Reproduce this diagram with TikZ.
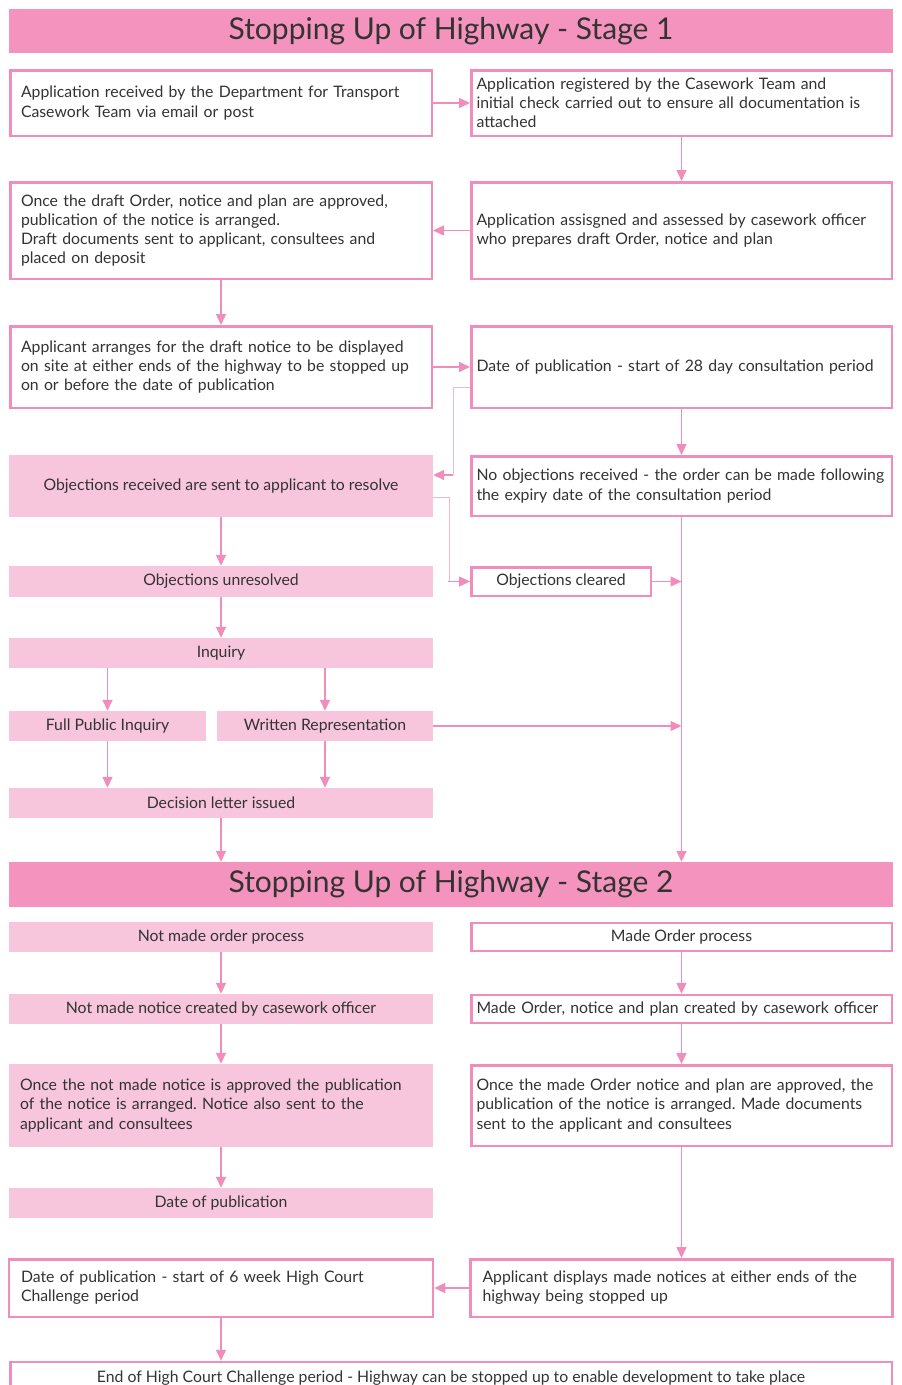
\documentclass[tikz,border=0pt]{standalone}
\usepackage{fontspec}
\setmainfont{Lato}
\frenchspacing
\usetikzlibrary{arrows.meta}
\definecolor{hdr}{HTML}{F493BE}
\definecolor{lfill}{HTML}{F8C6DC}
\definecolor{bord}{HTML}{F08DBB}
\definecolor{lline}{HTML}{F6B5D2}
\definecolor{txt}{HTML}{333333}
\tikzset{
  base/.style={rectangle, text=txt, font=\fontsize{15.8}{19.2}\selectfont, inner ysep=0pt},
  wbox/.style={base, draw=bord, line width=2.5pt, fill=white},
  pbox/.style={base, fill=lfill},
  hbox/.style={base, fill=hdr, font=\fontsize{30}{34}\selectfont},
  lcol/.style={minimum width=421.5pt, text width=400pt, inner xsep=10pt, align=left},
  rcol/.style={minimum width=420.5pt, text width=410pt, inner xsep=5pt, align=left},
  lcolp/.style={minimum width=424pt, text width=402pt, inner xsep=11pt, align=left},
  ccol/.style={minimum width=424pt, align=center},
  ccolr/.style={minimum width=420.5pt, align=center},
  arr/.style={draw=bord, line width=1.5pt, -{Triangle[length=11pt,width=10pt]}},
  lconn/.style={draw=lline, line width=1pt}
}
\begin{document}
\begin{tikzpicture}[x=1pt,y=-1pt]
\useasboundingbox (0,0) rectangle (902,1385);
\clip (0,0) rectangle (902,1385);
% Stage 1
\node[hbox, minimum width=884pt, minimum height=44pt] (h1) at (451,31) {Stopping Up of Highway - Stage 1};
\node[wbox, lcol, minimum height=65.5pt] (a1) at (221,103) {Application received by the Department for Transport\\Casework Team via email or post};
\node[wbox, rcol, minimum height=65.5pt] (a2) at (681.5,103) {Application registered by the Casework Team and\\initial check carried out to ensure all documentation is\\attached};
\node[wbox, rcol, minimum height=96.5pt] (a3) at (681.5,230.5) {Application assisgned and assessed by casework officer\\who prepares draft Order, notice and plan\\[6pt]};
\node[wbox, lcol, minimum height=96.5pt] (a4) at (221,230.5) {Once the draft Order, notice and plan are approved,\\publication of the notice is arranged.\\Draft documents sent to applicant, consultees and\\placed on deposit};
\node[wbox, lcol, minimum height=81.5pt] (a5) at (221,367) {Applicant arranges for the draft notice to be displayed\\on site at either ends of the highway to be stopped up\\on or before the date of publication};
\node[wbox, rcol, minimum height=81.5pt] (a6) at (681.5,367) {Date of publication - start of 28 day consultation period\\[4pt]};
\node[pbox, ccol, minimum height=62pt] (objrec) at (221,486) {Objections received are sent to applicant to resolve};
\node[wbox, rcol, minimum height=59.5pt] (noobj) at (681.5,486) {No objections received - the order can be made following\\the expiry date of the consultation period};
\node[pbox, ccol, minimum height=31pt] (objun) at (221,581.5) {Objections unresolved};
\node[wbox, minimum width=179.5pt, minimum height=28.5pt, inner xsep=4pt] (objcl) at (561,581.5) {Objections cleared};
\node[pbox, ccol, minimum height=30pt] (inq) at (221,653) {Inquiry};
\node[pbox, minimum width=197pt, minimum height=30pt] (fpi) at (107.5,726) {Full Public Inquiry};
\node[pbox, minimum width=216pt, minimum height=30pt] (wr) at (325,726) {Written Representation};
\node[pbox, ccol, minimum height=30pt] (dec) at (221,803) {Decision letter issued};
% Stage 2
\node[hbox, minimum width=884pt, minimum height=45pt] (h2) at (451,884.5) {Stopping Up of Highway - Stage 2};
\node[pbox, ccol, minimum height=30pt] (nm1) at (221,937) {Not made order process};
\node[wbox, ccolr, minimum height=28pt] (m1) at (681.5,937) {Made Order process};
\node[pbox, ccol, minimum height=30pt] (nm2) at (221,1009) {Not made notice created by casework officer};
\node[wbox, rcol, minimum height=28pt] (m2) at (681.5,1009) {Made Order, notice and plan created by casework officer};
\node[pbox, lcolp, minimum height=83pt] (nm3) at (221,1105.5) {Once the not made notice is approved the publication\\of the notice is arranged. Notice also sent to the\\applicant and consultees\\[4pt]};
\node[wbox, rcol, minimum height=80.5pt] (m3) at (681.5,1105.5) {Once the made Order notice and plan are approved, the\\publication of the notice is arranged. Made documents\\sent to the applicant and consultees\\[4pt]};
\node[pbox, ccol, minimum height=30pt] (nm4) at (221,1203) {Date of publication};
\node[wbox, lcol, minimum height=57.5pt, inner xsep=12pt] (b1) at (221,1288) {Date of publication - start of 6 week High Court\\Challenge period\\[4pt]};
\node[wbox, minimum width=420.5pt, text width=398pt, inner xsep=12pt, align=left, minimum height=57.5pt] (b2) at (681.5,1288) {Applicant displays made notices at either ends of the\\highway being stopped up\\[4pt]};
\node[wbox, minimum width=881.5pt, minimum height=32pt, align=center] (end) at (451,1378) {End of High Court Challenge period - Highway can be stopped up to enable development to take place};
% coordinates for connectors
\coordinate (c1) at (453,387);
\coordinate (c2) at (453,475);
\coordinate (c3) at (449,497);
% connectors
\draw[arr] (a1.east) -- (a2.west |- a1.east);
\draw[arr] (a2.south) -- (a3.north);
\draw[arr] (a3.west) -- (a4.east);
\draw[arr] (a4.south) -- (a5.north);
\draw[arr] (a5.east) -- (a6.west);
\draw[arr] (a6.south) -- (noobj.north);
\draw[lconn] (a6.west |- c1) -- (c1) -- (c2);
\draw[arr] (c2) -- (objrec.east |- c2);
\draw[lconn] (objrec.east |- c3) -- (c3) |- (objcl.west);
\draw[arr] ([xshift=-1pt]c3 |- objcl.west) -- (objcl.west);
\draw[arr] (objrec.south) -- (objun.north);
\draw[arr] (objun.south) -- (inq.north);
\draw[arr] (objcl.east) -- (objcl.east -| noobj.south);
\draw[arr] (inq.south -| fpi.north) -- (fpi.north);
\draw[arr] (inq.south -| wr.north) -- (wr.north);
\draw[arr] (wr.east) -- (wr.east -| noobj.south);
\draw[arr] (fpi.south) -- (fpi.south |- dec.north);
\draw[arr] (wr.south) -- (wr.south |- dec.north);
\draw[arr] (dec.south) -- (dec.south |- h2.north);
\draw[arr] (noobj.south) -- (noobj.south |- h2.north);
\draw[arr] (nm1.south) -- (nm2.north);
\draw[arr] (m1.south) -- (m2.north);
\draw[arr] (nm2.south) -- (nm3.north);
\draw[arr] (m2.south) -- (m3.north);
\draw[arr] (nm3.south) -- (nm4.north);
\draw[arr] (m3.south) -- (b2.north);
\draw[arr] (b2.west) -- (b1.east);
\draw[arr] (b1.south) -- (b1.south |- end.north);
\end{tikzpicture}
\end{document}
